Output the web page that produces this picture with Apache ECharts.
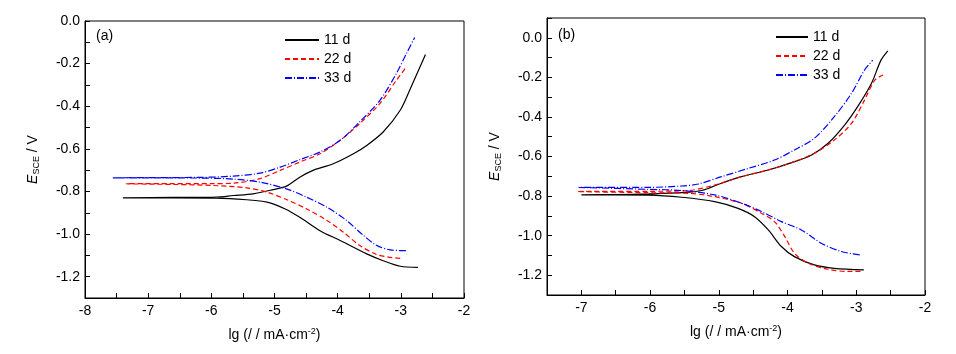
<!DOCTYPE html>
<html>
<head>
<meta charset="utf-8">
<script src="https://cdn.jsdelivr.net/npm/echarts@6/dist/echarts.min.js"></script>
<style>
  html, body { margin: 0; padding: 0; background: #fff; }
  #main { width: 956px; height: 354px; }
</style>
</head>
<body>
<div id="main"></div>
<script>
// panel (a): [lg i, E] pairs, cathodic end -> Ecorr -> anodic end
var a11 = [[-2.73,-1.156],[-3.01,-1.151],[-3.28,-1.125],[-3.54,-1.093],[-3.96,-1.030],[-4.28,-0.984],[-4.60,-0.921],[-4.83,-0.882],[-5.12,-0.850],[-5.44,-0.839],[-5.92,-0.831],[-6.6,-0.830],[-7.40,-0.830],
  [-6.6,-0.828],[-5.92,-0.826],[-5.65,-0.819],[-5.34,-0.811],[-5.02,-0.791],[-4.81,-0.775],[-4.60,-0.733],[-4.39,-0.701],[-4.07,-0.670],[-3.75,-0.623],[-3.54,-0.584],[-3.28,-0.521],[-3.01,-0.419],[-2.86,-0.325],[-2.72,-0.231],[-2.61,-0.157]];
var a22 = [[-3.01,-1.114],[-3.20,-1.108],[-3.38,-1.096],[-3.65,-1.054],[-3.91,-0.991],[-4.17,-0.936],[-4.49,-0.882],[-4.81,-0.838],[-5.12,-0.803],[-5.44,-0.783],[-5.97,-0.772],[-6.6,-0.767],[-7.35,-0.764],
  [-6.6,-0.763],[-5.97,-0.763],[-5.65,-0.761],[-5.23,-0.740],[-4.91,-0.701],[-4.60,-0.662],[-4.28,-0.623],[-3.96,-0.560],[-3.65,-0.481],[-3.33,-0.387],[-3.07,-0.278],[-2.91,-0.215]];
var a33 = [[-2.92,-1.078],[-3.17,-1.074],[-3.38,-1.054],[-3.59,-1.007],[-3.86,-0.936],[-4.17,-0.874],[-4.49,-0.827],[-4.81,-0.788],[-5.23,-0.756],[-5.65,-0.742],[-6.2,-0.737],[-7.0,-0.736],[-7.56,-0.736],
  [-7.0,-0.735],[-6.2,-0.734],[-5.65,-0.728],[-5.23,-0.714],[-4.91,-0.686],[-4.60,-0.651],[-4.28,-0.615],[-3.96,-0.560],[-3.65,-0.473],[-3.33,-0.372],[-3.07,-0.246],[-2.91,-0.152],[-2.78,-0.077]];

// panel (b)
var b11 = [[-2.89,-1.173],[-3.32,-1.165],[-3.61,-1.148],[-3.90,-1.106],[-4.09,-1.055],[-4.28,-0.971],[-4.48,-0.904],[-4.72,-0.862],[-5.06,-0.828],[-5.54,-0.806],[-6.02,-0.795],[-6.5,-0.794],[-7.00,-0.794],
  [-6.5,-0.792],[-6.02,-0.789],[-5.54,-0.783],[-5.25,-0.772],[-4.96,-0.735],[-4.67,-0.702],[-4.28,-0.668],[-3.94,-0.631],[-3.65,-0.592],[-3.41,-0.533],[-3.17,-0.441],[-2.98,-0.348],[-2.78,-0.231],[-2.64,-0.113],[-2.54,-0.066]];
var b22 = [[-2.94,-1.181],[-3.12,-1.181],[-3.41,-1.170],[-3.70,-1.139],[-3.90,-1.089],[-4.04,-1.005],[-4.19,-0.929],[-4.38,-0.887],[-4.67,-0.836],[-5.06,-0.803],[-5.44,-0.786],[-6.02,-0.783],[-7.06,-0.777],
  [-6.02,-0.776],[-5.44,-0.772],[-5.06,-0.744],[-4.67,-0.702],[-4.28,-0.668],[-3.94,-0.631],[-3.61,-0.584],[-3.32,-0.517],[-3.07,-0.433],[-2.88,-0.315],[-2.73,-0.214],[-2.61,-0.188]];
var b33 = [[-2.95,-1.097],[-3.22,-1.080],[-3.51,-1.038],[-3.80,-0.971],[-4.09,-0.929],[-4.38,-0.878],[-4.67,-0.836],[-5.06,-0.794],[-5.54,-0.772],[-6.02,-0.766],[-7.04,-0.756],
  [-6.02,-0.756],[-5.54,-0.749],[-5.30,-0.739],[-4.96,-0.702],[-4.57,-0.660],[-4.19,-0.618],[-3.90,-0.567],[-3.61,-0.508],[-3.32,-0.399],[-3.07,-0.281],[-2.88,-0.163],[-2.76,-0.113]];

var names = ['11 d', '22 d', '33 d'];
var colors = ['#000000', '#ff0000', '#0000ff'];
var dashes = ['solid', [5, 3], [7, 2, 1, 2]];

var font = '"Liberation Sans", Arial, sans-serif';
var chart = echarts.init(document.getElementById('main'));

function xAx(idx, min) {
  return {
    type: 'value', gridIndex: idx, min: min, max: -2, interval: 0.5,
    axisLine: { onZero: false, lineStyle: { color: '#000', width: 1 } },
    axisTick: { inside: true, length: 5, lineStyle: { color: '#000' } },
    splitLine: { show: false },
    axisLabel: {
      color: '#000', fontSize: 14, fontFamily: font, margin: 6,
      formatter: function (v) { return Math.abs(v - Math.round(v)) < 1e-6 ? String(Math.round(v)) : ''; }
    },
    name: '{n|lg (/ / mA·cm}{sup|-2}{n|)}', nameLocation: 'middle', nameGap: 29,
    nameTextStyle: {
      rich: {
        n: { fontSize: 14, fontFamily: font, color: '#000', lineHeight: 16 },
        sup: { fontSize: 9, fontFamily: font, color: '#000', verticalAlign: 'top', lineHeight: 10 }
      }
    }
  };
}
function yAx(idx, max) {
  return {
    type: 'value', gridIndex: idx, min: -1.3, max: max, interval: 0.1,
    axisLine: { onZero: false, lineStyle: { color: '#000', width: 1 } },
    axisTick: { inside: true, length: 5, lineStyle: { color: '#000' } },
    splitLine: { show: false },
    axisLabel: {
      color: '#000', fontSize: 14, fontFamily: font, margin: 5,
      formatter: function (v) {
        var k = Math.round(v * 10);
        if (k % 2 !== 0) return '';
        return (k < 0 ? '-' : '') + (Math.abs(k) / 10).toFixed(1);
      }
    },
    name: '{e|E}{sub|SCE}{n| / V}', nameLocation: 'middle', nameGap: 44, nameRotate: 90,
    nameTextStyle: {
      rich: {
        e: { fontSize: 14, fontFamily: font, color: '#000', fontStyle: 'italic', lineHeight: 16 },
        sub: { fontSize: 9, fontFamily: font, color: '#000', verticalAlign: 'bottom', lineHeight: 10 },
        n: { fontSize: 14, fontFamily: font, color: '#000', lineHeight: 16 }
      }
    }
  };
}

var series = [];
[[a11, a22, a33], [b11, b22, b33]].forEach(function (set, gi) {
  set.forEach(function (d, i) {
    series.push({
      name: names[i], type: 'line', xAxisIndex: gi, yAxisIndex: gi,
      data: d, symbol: 'none', smooth: 0.3, animation: false,
      lineStyle: { color: colors[i], width: 1.2, type: dashes[i] },
      itemStyle: { color: colors[i] }
    });
  });
});

function legend(left, top, w) {
  return {
    left: left, top: top, orient: 'vertical', data: names, padding: 0,
    itemWidth: w, itemHeight: 14, itemGap: 5,
    itemStyle: { opacity: 0 },
    textStyle: { fontSize: 14, fontFamily: font, color: '#000' }
  };
}

chart.setOption({
  backgroundColor: '#fff',
  animation: false,
  grid: [
    { left: 85, right: 492, top: 21, bottom: 56, show: true, borderColor: '#000', borderWidth: 1 },
    { left: 547, right: 31, top: 18, bottom: 59, show: true, borderColor: '#000', borderWidth: 1 }
  ],
  xAxis: [xAx(0, -8), xAx(1, -7.5)],
  yAxis: [yAx(0, 0), yAx(1, 0.1)],
  legend: [legend(284, 33, 34), legend(775, 30, 32)],
  graphic: [
    { type: 'text', left: 96, top: 29, style: { text: '(a)', fontSize: 14, fontFamily: font, fill: '#000' } },
    { type: 'text', left: 558, top: 28, style: { text: '(b)', fontSize: 14, fontFamily: font, fill: '#000' } }
  ],
  series: series
});
</script>
</body>
</html>
